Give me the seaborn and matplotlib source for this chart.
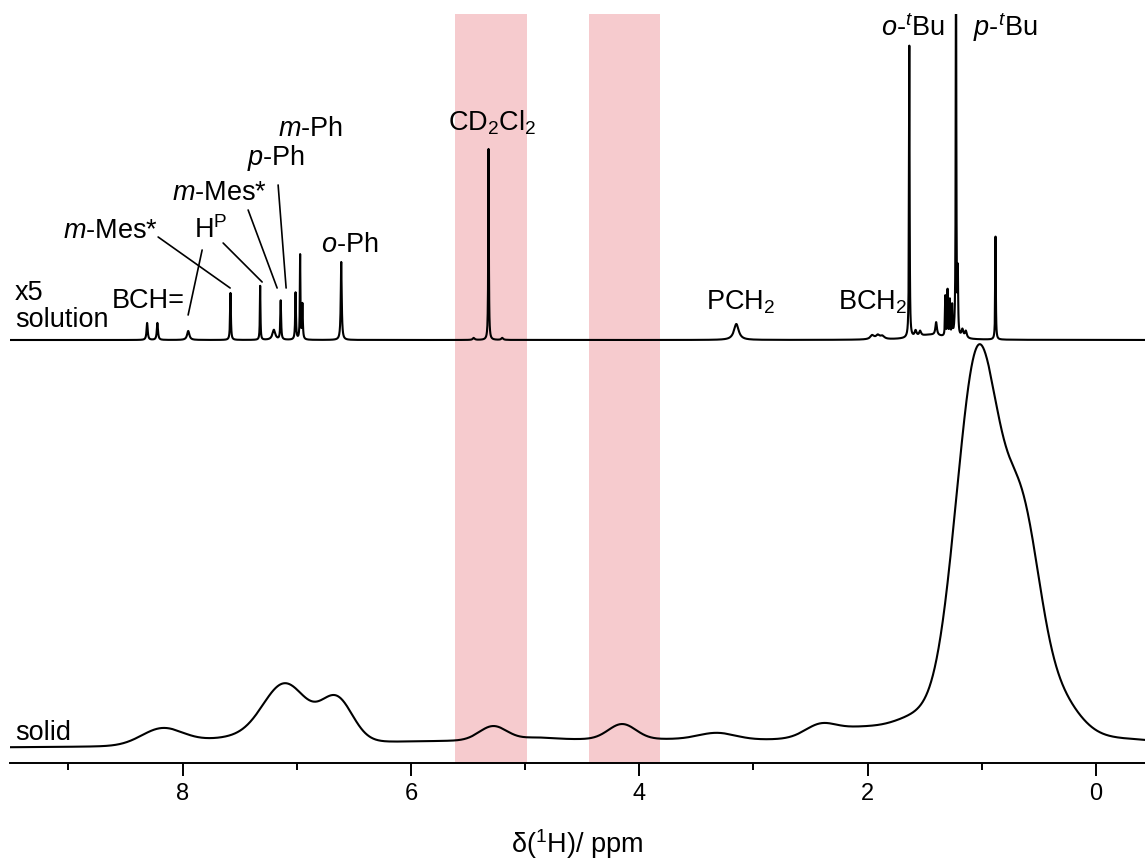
import numpy as np
import pandas as pd
import matplotlib
matplotlib.use("Agg")
import matplotlib.pyplot as plt
from matplotlib.ticker import MultipleLocator
import seaborn as sns

# ---- solution-state 1H spectrum (scaled x5): Lorentzian peak list ----
sol_shift = [8.31, 8.22, 7.95, 7.58, 7.32, 7.20, 7.14, 7.01, 6.97, 6.95,
             6.61, 5.45, 5.32, 5.20, 3.15, 1.96, 1.91, 1.87, 1.635, 1.58,
             1.54, 1.45, 1.40, 1.32, 1.30, 1.28, 1.26, 1.226, 1.21, 1.17,
             1.14, 0.88]
sol_height = [17, 17, 9, 47, 54, 10, 39, 47, 84, 35,
              78, 2, 191, 2, 16, 4, 4, 3, 292, 6,
              5, 5, 13, 40, 46, 36, 30, 420, 60, 8,
              7, 103]
sol_hwhm = [0.006, 0.006, 0.012, 0.004, 0.003, 0.015, 0.004, 0.004, 0.003, 0.004,
            0.005, 0.01, 0.003, 0.01, 0.025, 0.02, 0.02, 0.02, 0.003, 0.01,
            0.01, 0.15, 0.008, 0.003, 0.003, 0.003, 0.003, 0.003, 0.003, 0.01,
            0.01, 0.003]
sol_offset = 423

# ---- solid-state 1H spectrum: Gaussian components ----
solid_shift = [8.18, 7.10, 6.65, 7.40, 5.28, 4.90, 4.15, 3.32, 2.42, 2.05,
               1.55, 1.03, 0.64, 0.38, 0.00, 4.00]
solid_height = [16, 54, 42, 8, 14, 2, 15, 6.5, 10, 14,
                20, 390, 175, 45, 8, 9]
solid_sigma = [0.18, 0.19, 0.14, 0.45, 0.12, 0.15, 0.12, 0.16, 0.13, 0.32,
               0.20, 0.195, 0.15, 0.20, 0.60, 2.5]
solid_offset = 15

# highlighted regions (ppm)
band_lo = [4.98, 3.82]
band_hi = [5.61, 4.44]

x_major = [0, 2, 4, 6, 8]

ppm = np.arange(-0.5, 9.6, 0.0005)


def lorentz_sum(x, c, h, w):
    y = np.zeros_like(x)
    for ci, hi, wi in zip(c, h, w):
        y += hi / (1.0 + ((x - ci) / wi) ** 2)
    return y


def gauss_sum(x, c, h, s):
    y = np.zeros_like(x)
    for ci, hi, si in zip(c, h, s):
        y += hi * np.exp(-((x - ci) ** 2) / (2 * si ** 2))
    return y


df = pd.concat([
    pd.DataFrame({"ppm": ppm,
                  "I": sol_offset + lorentz_sum(ppm, sol_shift, sol_height, sol_hwhm),
                  "trace": "solution"}),
    pd.DataFrame({"ppm": ppm,
                  "I": solid_offset + gauss_sum(ppm, solid_shift, solid_height, solid_sigma),
                  "trace": "solid"}),
])

sns.set_theme(style="white")
plt.rcParams["font.family"] = ["Liberation Sans", "DejaVu Sans"]
plt.rcParams["mathtext.fontset"] = "custom"
plt.rcParams["mathtext.rm"] = "Liberation Sans"
plt.rcParams["mathtext.it"] = "Liberation Sans:italic"
plt.rcParams["mathtext.bf"] = "Liberation Sans:bold"
plt.rcParams["text.color"] = "black"
plt.rcParams["axes.labelcolor"] = "black"
plt.rcParams["xtick.color"] = "black"
plt.rcParams["xtick.labelcolor"] = "black"

fig = plt.figure(figsize=(11.45, 8.59), dpi=100)
ax = fig.add_axes([10 / 1145, 96 / 859, 1135 / 1145, 749.5 / 859])

for lo, hi in zip(band_lo, band_hi):
    ax.axvspan(lo, hi, color="#F6CBCE", lw=0, zorder=0)

sns.lineplot(data=df, x="ppm", y="I", units="trace", estimator=None, sort=False,
             color="black", lw=1.5, ax=ax, legend=False, zorder=3)

ax.set_xlim(9.511, -0.429)
ax.set_ylim(0, 749.5)

for s in ["left", "right", "top"]:
    ax.spines[s].set_visible(False)
ax.spines["bottom"].set_linewidth(1.4)
ax.spines["bottom"].set_color("black")
ax.set_yticks([])
ax.set_ylabel("")
ax.set_xticks(x_major)
ax.xaxis.set_minor_locator(MultipleLocator(1))
ax.tick_params(axis="x", which="major", direction="out", length=9.5, width=1.4,
               color="black", labelcolor="black", labelsize=17, pad=5, bottom=True)
ax.tick_params(axis="x", which="minor", direction="out", length=5, width=1.4,
               color="black", bottom=True)
ax.set_xlabel(r"δ($^{1}$H)/ ppm", fontsize=19.5, labelpad=16, color="black")

fs = 19.5


def px(xp, yp):
    # layout position in figure pixels -> (ppm, intensity)
    return (1096 - xp) / 114.2, 763 - yp


labels = [
    ("x5", 15, 300, "left"),
    ("solution", 15, 327, "left"),
    ("solid", 15, 740, "left"),
    ("BCH=", 148.5, 308, "center"),
    (r"$\it{m}$-Mes*", 110.5, 238, "center"),
    (r"H$^{\mathrm{P}}$", 211, 238, "center"),
    (r"$\it{m}$-Mes*", 219, 200, "center"),
    (r"$\it{p}$-Ph", 276, 165, "center"),
    (r"$\it{m}$-Ph", 310, 136, "center"),
    (r"$\it{o}$-Ph", 350, 252, "center"),
    (r"CD$_{2}$Cl$_{2}$", 492, 130, "center"),
    (r"PCH$_{2}$", 741, 310, "center"),
    (r"BCH$_{2}$", 872.5, 310, "center"),
    (r"$\it{o}$-$^{\it{t}}$Bu", 912.5, 36, "center"),
    (r"$\it{p}$-$^{\it{t}}$Bu", 1005, 36, "center"),
]
for s, xp, yp, ha in labels:
    x, y = px(xp, yp)
    ax.text(x, y, s, fontsize=fs, color="black", va="baseline", ha=ha, zorder=5)

leaders = [
    ((158, 237), (230, 288)),
    ((202, 250), (188, 315)),
    ((223, 243), (262, 282)),
    ((248, 210), (277, 288)),
    ((278, 185), (286, 288)),
]
for (x0, y0), (x1, y1) in leaders:
    a = px(x0, y0)
    b = px(x1, y1)
    ax.plot([a[0], b[0]], [a[1], b[1]], color="black", lw=1.2, zorder=4)

fig.savefig("out.png", dpi=100)
